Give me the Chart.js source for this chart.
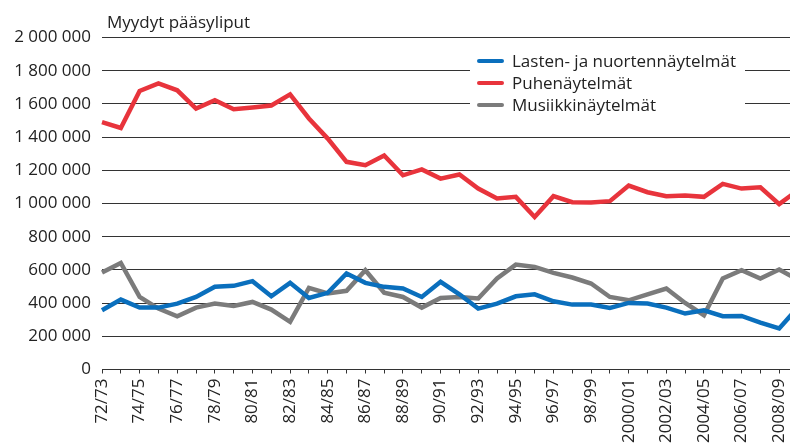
<!DOCTYPE html>
<html>
<head>
<meta charset="utf-8">
<script src="https://cdn.jsdelivr.net/npm/chart.js@4/dist/chart.umd.min.js"></script>
<style>
  html, body { margin: 0; padding: 0; background: #fff; overflow: hidden; }
  #wrap { width: 790px; height: 448px; overflow: hidden; }
</style>
</head>
<body>
<div id="wrap"><canvas id="c" width="798" height="448"></canvas></div>
<script>
const seasons = [
  '72/73', '73/74', '74/75', '75/76', '76/77', '77/78', '78/79', '79/80', '80/81', '81/82',
  '82/83', '83/84', '84/85', '85/86', '86/87', '87/88', '88/89', '89/90', '90/91', '91/92',
  '92/93', '93/94', '94/95', '95/96', '96/97', '97/98', '98/99', '99/00', '2000/01', '2001/02',
  '2002/03', '2003/04', '2004/05', '2005/06', '2006/07', '2007/08', '2008/09', '2009/10',
];

const lasten = [
  357000, 421000, 373000, 373000, 397000, 437000, 498000, 504000, 532000, 441000,
  522000, 431000, 462000, 578000, 522000, 498000, 488000, 437000, 528000, 453000,
  367000, 397000, 441000, 453000, 411000, 391000, 391000, 371000, 401000, 397000,
  373000, 337000, 357000, 321000, 323000, 283000, 247000, 375000,
];

const puhe = [
  1490000, 1455000, 1678000, 1723000, 1682000, 1572000, 1622000, 1568000, 1578000, 1590000,
  1657000, 1512000, 1391000, 1251000, 1231000, 1289000, 1170000, 1205000, 1150000, 1175000,
  1090000, 1030000, 1040000, 919000, 1044000, 1008000, 1006000, 1014000, 1108000, 1068000,
  1044000, 1048000, 1040000, 1118000, 1090000, 1098000, 996000, 1080000,
];

const musiikki = [
  584000, 642000, 437000, 367000, 321000, 373000, 397000, 383000, 407000, 361000,
  287000, 492000, 458000, 474000, 598000, 462000, 437000, 373000, 431000, 437000,
  428000, 548000, 632000, 618000, 582000, 554000, 518000, 437000, 417000, 453000,
  488000, 401000, 327000, 548000, 598000, 548000, 602000, 540000,
];

const yTicks = [0, 200000, 400000, 600000, 800000, 1000000, 1200000, 1400000, 1600000, 1800000, 2000000];
const yTitle = 'Myydyt pääsyliput';

const FONT = "'Open Sans', sans-serif";
const INK = '#222';
const GRID = '#333';

Chart.defaults.font.family = FONT;
Chart.defaults.font.size = 17;
Chart.defaults.color = INK;

const fmt = (v) => String(v).replace(/\B(?=(\d{3})+(?!\d))/g, ' ');

// title above the plot and legend box inside it
const extras = {
  id: 'extras',
  afterDraw(chart) {
    const { ctx, chartArea } = chart;
    ctx.save();
    ctx.font = `17px ${FONT}`;
    ctx.fillStyle = INK;
    ctx.textBaseline = 'alphabetic';
    ctx.textAlign = 'left';
    ctx.fillText(yTitle, chartArea.left + 5, 27.5);

    const bx = chartArea.left + 368;
    const by = 48;
    ctx.fillStyle = '#fff';
    ctx.fillRect(bx, by, 275, 70);

    chart.data.datasets.forEach((ds, i) => {
      const y = 61 + i * 22;
      ctx.strokeStyle = ds.borderColor;
      ctx.lineWidth = 4;
      ctx.lineCap = 'round';
      ctx.beginPath();
      ctx.moveTo(bx + 9, y);
      ctx.lineTo(bx + 32, y);
      ctx.stroke();
      ctx.fillStyle = INK;
      ctx.textBaseline = 'middle';
      ctx.fillText(ds.label, bx + 42, y + 1);
    });
    ctx.restore();
  },
};

new Chart(document.getElementById('c'), {
  type: 'line',
  data: {
    labels: seasons,
    datasets: [
      { label: 'Lasten- ja nuortennäytelmät', data: lasten, borderColor: '#0a6fbd' },
      { label: 'Puhenäytelmät', data: puhe, borderColor: '#e8343c' },
      { label: 'Musiikkinäytelmät', data: musiikki, borderColor: '#7b7b7b' },
    ],
  },
  options: {
    responsive: false,
    animation: false,
    layout: { padding: { top: 37.5, left: 0, right: 0, bottom: 0 } },
    elements: {
      line: { borderWidth: 4.5, tension: 0, fill: false },
      point: { radius: 0 },
    },
    plugins: {
      legend: { display: false },
      tooltip: { enabled: false },
    },
    scales: {
      x: {
        offset: false,
        grid: {
          drawOnChartArea: false,
          drawTicks: true,
          tickLength: 4,
          color: GRID,
        },
        border: { display: true, color: GRID, width: 1 },
        ticks: {
          autoSkip: false,
          maxRotation: 90,
          minRotation: 90,
          padding: 5,
          callback: (v, i) => (i % 2 === 0 ? seasons[i] : ''),
        },
        afterFit: (scale) => {
          scale.height = 78.5;
          scale.paddingLeft = 0;
          scale.paddingRight = 0;
        },
      },
      y: {
        min: yTicks[0],
        max: yTicks[yTicks.length - 1],
        grid: { color: GRID, drawTicks: false, lineWidth: 1 },
        border: { display: false },
        afterBuildTicks: (scale) => {
          scale.ticks = yTicks.map((v) => ({ value: v }));
        },
        ticks: {
          padding: 11,
          callback: (v) => fmt(v),
        },
        afterFit: (scale) => {
          scale.width = 102;
          scale.paddingTop = 0;
          scale.paddingBottom = 0;
        },
      },
    },
  },
  plugins: [extras],
});
</script>
</body>
</html>
